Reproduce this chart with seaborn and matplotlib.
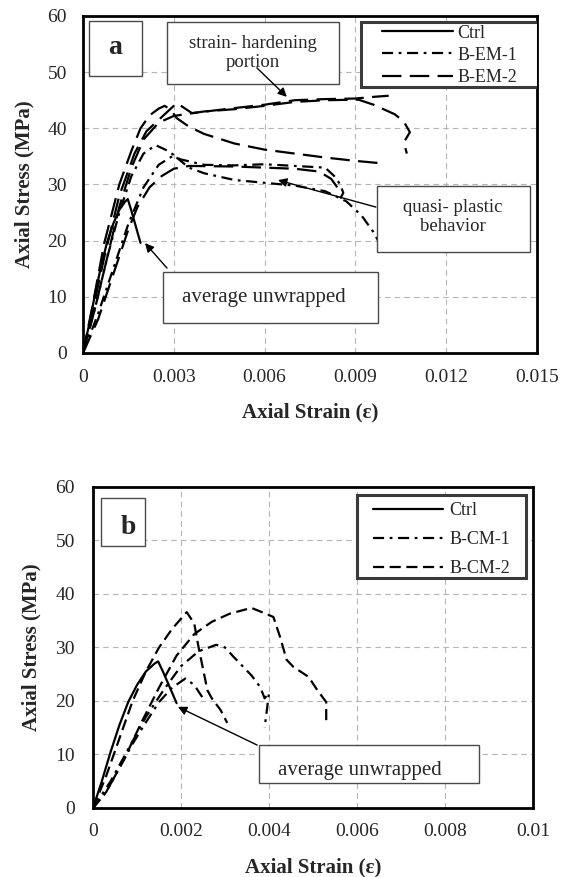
import matplotlib
matplotlib.use("Agg")
import matplotlib.pyplot as plt
from matplotlib.patches import Rectangle
import seaborn as sns
import pandas as pd

# ---------------- data ----------------
# Control (average unwrapped) - same in both panels
ctrl_strain = [0, 0.0002, 0.0004, 0.0006, 0.0008, 0.001, 0.0012, 0.0014, 0.00148, 0.0016, 0.0018, 0.0019]
ctrl_stress = [0, 5, 10.5, 15.5, 19.8, 23, 25.5, 27, 27.4, 25.3, 21.5, 19.6]

# Panel a : B-EM-1 (dash-dot) specimens
em1a_strain = [0, 0.0004, 0.0008, 0.0012, 0.0016, 0.002, 0.0024, 0.0028, 0.0032, 0.004, 0.005, 0.006, 0.007, 0.008, 0.0083, 0.0085, 0.0086, 0.0085]
em1a_stress = [0, 8, 17, 25, 31.5, 35.5, 37, 36, 34.5, 33.5, 33.4, 33.6, 33.3, 33, 31.5, 30, 28.5, 27.5]
em1b_strain = [0, 0.0005, 0.001, 0.0015, 0.002, 0.0025, 0.003, 0.0035, 0.004, 0.005, 0.006, 0.007, 0.008, 0.0087, 0.0092, 0.0096, 0.0098]
em1b_stress = [0, 7, 15, 23, 29.5, 33.5, 35.2, 33, 32, 30.8, 30.3, 29.8, 28.8, 27, 24.5, 21.5, 19.5]

# Panel a : B-EM-2 (long dash) specimens
em2a_strain = [0, 0.0003, 0.0007, 0.0012, 0.0016, 0.0019, 0.0022, 0.0025, 0.0027, 0.0029, 0.0031, 0.0035, 0.004, 0.005, 0.006, 0.007, 0.008, 0.009, 0.0098]
em2a_stress = [0, 8, 19.5, 30, 36, 40, 42.3, 43.5, 44, 43.3, 41.8, 40.3, 39, 37.3, 36.2, 35.5, 34.8, 34.2, 33.8]
em2b_strain = [0, 0.0003, 0.0007, 0.0012, 0.0017, 0.0021, 0.0025, 0.0029, 0.0031, 0.0036, 0.005, 0.006, 0.007, 0.008, 0.009, 0.0096, 0.0101]
em2b_stress = [0, 7, 17, 28, 35.5, 39.5, 41.5, 43.5, 44.5, 42.7, 43.6, 44.2, 45, 45.2, 45.3, 45.6, 45.8]
em2c_strain = [0, 0.0005, 0.001, 0.0015, 0.0018, 0.0022, 0.0026, 0.003, 0.0035, 0.005, 0.006, 0.007, 0.0078, 0.0082, 0.0084]
em2c_stress = [0, 6, 14, 22, 26, 29.5, 31.5, 32.8, 33.3, 33.2, 33.0, 32.8, 32.3, 31, 29.5]
em2d_strain = [0, 0.0004, 0.0008, 0.0012, 0.0016, 0.002, 0.0025, 0.003, 0.0035, 0.004, 0.005, 0.006, 0.007, 0.008, 0.0091, 0.0096, 0.0103, 0.0106, 0.0108, 0.0106, 0.0107]
em2d_stress = [0, 8, 17, 26, 33, 38, 41, 42.2, 42.6, 43, 43.4, 44, 44.7, 45, 45.1, 44.2, 42.5, 41.2, 39.3, 37.5, 35.5]

# Panel b : B-CM-1 (dash-dot) specimens
cm1a_strain = [0, 0.0004, 0.0008, 0.0012, 0.0016, 0.002, 0.0024, 0.0028, 0.003, 0.0032, 0.0034, 0.0036, 0.0038, 0.0039, 0.004, 0.0039]
cm1a_stress = [0, 5, 11, 17, 22, 26.5, 29.3, 30.5, 30, 28.2, 26.5, 24.8, 22.6, 20.5, 21.5, 15]
cm1b_strain = [0, 0.0003, 0.0006, 0.0009, 0.0012, 0.0015, 0.0018, 0.0021, 0.0023, 0.0025]
cm1b_stress = [0, 3, 7.5, 12, 16, 19.8, 22.5, 24.2, 23, 20.5]

# Panel b : B-CM-2 (short dash) specimens
cm2a_strain = [0, 0.0003, 0.0006, 0.0009, 0.0012, 0.0015, 0.0018, 0.00213, 0.0023, 0.0024, 0.0025, 0.0026, 0.0027, 0.0029, 0.00305]
cm2a_stress = [0, 6, 13, 20, 25.5, 30, 33.5, 36.6, 34.5, 30, 26, 22, 20.5, 18.3, 15.9]
cm2b_strain = [0, 0.0003, 0.0007, 0.0011, 0.0015, 0.0019, 0.0023, 0.0027, 0.0031, 0.0036, 0.0039, 0.0041, 0.00425, 0.0044, 0.00455, 0.0049, 0.0051, 0.0053, 0.0053]
cm2b_stress = [0, 3, 9, 16, 22.5, 28.5, 32.5, 34.8, 36.3, 37.4, 36.4, 35.7, 32, 27.7, 26.4, 24.5, 22, 19.8, 16]

a_xticks = [0, 0.003, 0.006, 0.009, 0.012, 0.015]
a_xticklabels = ["0", "0.003", "0.006", "0.009", "0.012", "0.015"]
b_xticks = [0, 0.002, 0.004, 0.006, 0.008, 0.01]
b_xticklabels = ["0", "0.002", "0.004", "0.006", "0.008", "0.01"]
yticks = [0, 10, 20, 30, 40, 50, 60]

# ---------------- style ----------------
sns.set_style("white")
plt.rcParams["font.family"] = ["Liberation Serif", "DejaVu Serif"]
plt.rcParams["lines.scale_dashes"] = False

SOLID = "-"
DASHDOT = (0, (8, 4, 2, 4))
LONGDASH = (0, (14, 6))
SHORTDASH = (0, (8, 4))
LW = 1.6

fig = plt.figure(figsize=(5.7, 8.77), dpi=100)
ax_a = fig.add_axes([0.1456, 0.5975, 0.7965, 0.3843])
ax_b = fig.add_axes([0.1632, 0.0787, 0.7719, 0.3660])


def draw(ax, xs, ys, ls, label):
    df = pd.DataFrame({"strain": xs, "stress": ys})
    sns.lineplot(data=df, x="strain", y="stress", ax=ax, sort=False, estimator=None,
                 color="black", linewidth=LW, linestyle=ls, label=label)


def style_axes(ax, xticks, xticklabels, xmax, xl_y, yl_x, xpad, ypad):
    ax.set_xlim(0, xmax)
    ax.set_ylim(0, 60)
    ax.set_xticks(xticks)
    ax.set_xticklabels(xticklabels)
    ax.set_yticks(yticks)
    ax.tick_params(axis="x", length=0, pad=xpad, labelsize=14)
    ax.tick_params(axis="y", length=0, pad=ypad, labelsize=14)
    ax.grid(True, color="#b5b5b5", linestyle=(0, (4, 3)), linewidth=0.8)
    for s in ax.spines.values():
        s.set_visible(True)
        s.set_color("black")
        s.set_linewidth(2.0)
    ax.set_xlabel("Axial Strain (ε)", fontsize=15, fontweight="bold")
    ax.set_ylabel("Axial Stress (MPa)", fontsize=15, fontweight="bold")
    ax.xaxis.label.set_va("center")
    ax.yaxis.label.set_va("center")
    ax.xaxis.set_label_coords(0.5, xl_y)
    ax.yaxis.set_label_coords(yl_x, 0.5)


def box(ax, x0, y0, x1, y1, ec="#4a4a4a", lw=1.0, z=5):
    ax.add_patch(Rectangle((x0, y0), x1 - x0, y1 - y0, transform=ax.transAxes,
                           facecolor="white", edgecolor=ec, linewidth=lw, zorder=z))


def arrow(ax, tail, head):
    ax.annotate("", xy=head, xycoords="axes fraction", xytext=tail, textcoords="axes fraction",
                arrowprops=dict(arrowstyle="-|>", color="black", lw=1.0, mutation_scale=13,
                                shrinkA=0, shrinkB=0), zorder=6)


def legend(ax, frame, anchor, spacing, textpad):
    box(ax, *frame, ec="#3a3a3a", lw=2.2, z=6)
    leg = ax.legend(loc="upper left", bbox_to_anchor=anchor, borderaxespad=0, borderpad=0,
                    fontsize=13, handlelength=3.9, handletextpad=textpad,
                    labelspacing=spacing, frameon=False)
    leg.set_zorder(7)


# ---------------- panel a ----------------
draw(ax_a, ctrl_strain, ctrl_stress, SOLID, "Ctrl")
draw(ax_a, em1a_strain, em1a_stress, DASHDOT, "B-EM-1")
draw(ax_a, em1b_strain, em1b_stress, DASHDOT, "_nolegend_")
draw(ax_a, em2a_strain, em2a_stress, LONGDASH, "B-EM-2")
draw(ax_a, em2b_strain, em2b_stress, LONGDASH, "_nolegend_")
draw(ax_a, em2c_strain, em2c_stress, LONGDASH, "_nolegend_")
draw(ax_a, em2d_strain, em2d_stress, LONGDASH, "_nolegend_")
style_axes(ax_a, a_xticks, a_xticklabels, 0.015, -0.178, -0.128, 11.5, 11.5)
legend(ax_a, (0.612, 0.789, 1.002, 0.982), (0.659, 0.974), 0.28, 0.28)

box(ax_a, 0.013, 0.822, 0.130, 0.985)
ax_a.text(0.0705, 0.905, "a", transform=ax_a.transAxes, ha="center", va="center",
          fontsize=20, fontweight="bold", zorder=8)
box(ax_a, 0.185, 0.798, 0.564, 0.982)
ax_a.text(0.374, 0.890, "strain- hardening\nportion", transform=ax_a.transAxes, ha="center",
          va="center", fontsize=13.5, linespacing=1.2, zorder=8)
arrow(ax_a, (0.383, 0.846), (0.449, 0.760))
box(ax_a, 0.648, 0.300, 0.985, 0.496)
ax_a.text(0.815, 0.404, "quasi- plastic\nbehavior", transform=ax_a.transAxes, ha="center",
          va="center", fontsize=13.5, linespacing=1.2, zorder=8)
arrow(ax_a, (0.645, 0.433), (0.4295, 0.513))
box(ax_a, 0.176, 0.089, 0.650, 0.240)
ax_a.text(0.218, 0.166, "average unwrapped", transform=ax_a.transAxes, ha="left",
          va="center", fontsize=15, zorder=8)
arrow(ax_a, (0.185, 0.252), (0.1366, 0.326))

# ---------------- panel b ----------------
draw(ax_b, ctrl_strain, ctrl_stress, SOLID, "Ctrl")
draw(ax_b, cm1a_strain, cm1a_stress, DASHDOT, "B-CM-1")
draw(ax_b, cm1b_strain, cm1b_stress, DASHDOT, "_nolegend_")
draw(ax_b, cm2a_strain, cm2a_stress, SHORTDASH, "B-CM-2")
draw(ax_b, cm2b_strain, cm2b_stress, SHORTDASH, "_nolegend_")
style_axes(ax_b, b_xticks, b_xticklabels, 0.01, -0.184, -0.139, 11, 13)
legend(ax_b, (0.600, 0.7165, 0.984, 0.975), (0.636, 0.953), 0.67, 0.33)

box(ax_b, 0.018, 0.816, 0.118, 0.966)
ax_b.text(0.0795, 0.875, "b", transform=ax_b.transAxes, ha="center", va="center",
          fontsize=20, fontweight="bold", zorder=8)
box(ax_b, 0.377, 0.078, 0.877, 0.196)
ax_b.text(0.42, 0.118, "average unwrapped", transform=ax_b.transAxes, ha="left",
          va="center", fontsize=15, zorder=8)
arrow(ax_b, (0.373, 0.196), (0.193, 0.315))

fig.savefig("out.png", dpi=100)
